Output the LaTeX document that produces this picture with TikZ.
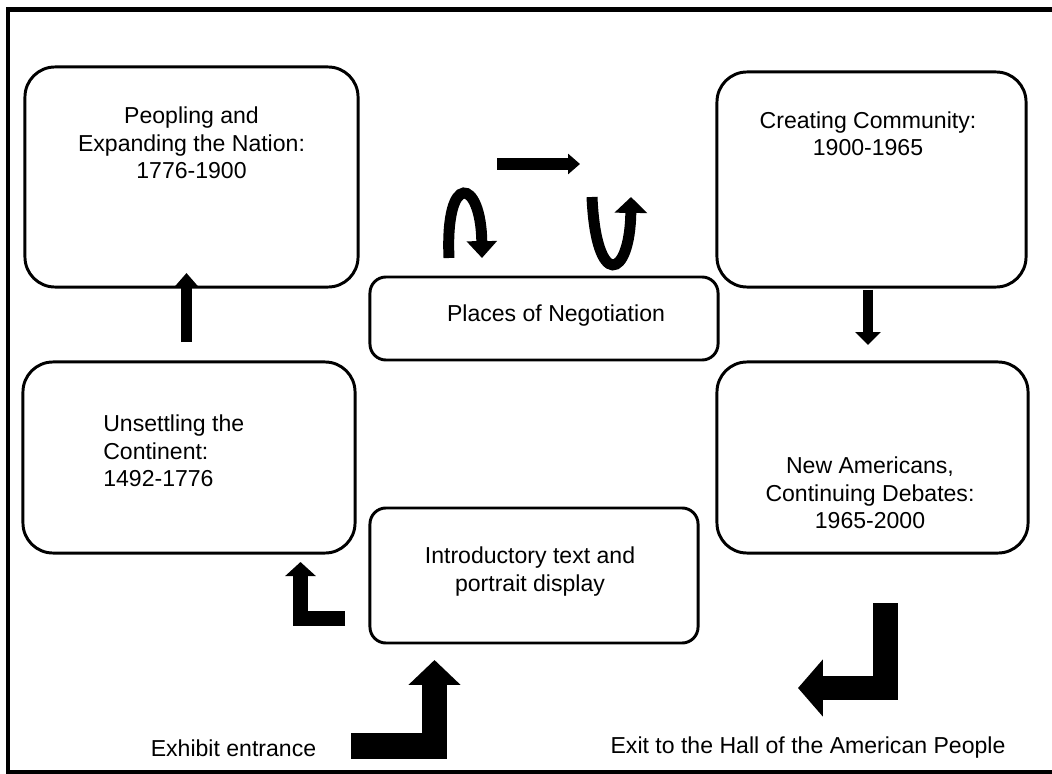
\documentclass[tikz,border=0pt]{standalone}
\usepackage{fontspec}
\setmainfont{Liberation Sans}
\usetikzlibrary{arrows.meta}

\begin{document}
\begin{tikzpicture}[x=0.025cm,y=-0.025cm,
    room/.style={draw,line width=2.1pt,rounded corners=0.75cm,inner sep=0pt},
    nook/.style={draw,line width=2.1pt,rounded corners=0.4cm,inner sep=0pt},
    txt/.style={align=center,inner sep=0pt,font=\fontsize{16.4}{19.5}\selectfont},
    walk/.style={line join=miter,line cap=butt}]
  \useasboundingbox (0,0) rectangle (1052,774);
  % outer frame, cut off at the right
  \draw[line width=3.2pt] (1070,9.5) -- (8,9.5) -- (8,772) -- (1070,772);
  % galleries
  \node[room,minimum width=8.325cm,minimum height=5.5cm] (peopling) at (191.5,177) {};
  \node[room,minimum width=7.725cm,minimum height=5.375cm] (creating) at (871.5,179.5) {};
  \node[nook,minimum width=8.7cm,minimum height=2.075cm] (places) at (544,318.5) {};
  \node[room,minimum width=8.3cm,minimum height=4.775cm] (unsettling) at (189,457.5) {};
  \node[room,minimum width=7.775cm,minimum height=4.775cm] (newam) at (872.5,457.5) {};
  \node[nook,minimum width=8.2cm,minimum height=3.375cm] (intro) at (534,575.5) {};
  \node[txt] (peoplingt) at (191.5,143) {Peopling and\\Expanding the Nation:\\1776-1900};
  \node[txt] (creatingt) at (868,133.5) {Creating Community:\\1900-1965};
  \node[txt] (placest) at (556,316) {Places of Negotiation};
  \node[txt,align=left,anchor=west] (unsettlingt) at (103,451) {Unsettling the\\Continent:\\1492-1776};
  \node[txt] (newamt) at (870,493) {New Americans,\\Continuing Debates:\\1965-2000};
  \node[txt] (introt) at (530,571.5) {Introductory text and\\portrait display};
  \node[txt] (entrance) at (233.5,748) {Exhibit entrance};
  \node[txt] (exit) at (808,748) {Exit to the Hall of the American People};
  % route markers
  \coordinate (u0) at (186.5,342); \coordinate (u1) at (186.5,273);
  \coordinate (d0) at (868,290); \coordinate (d1) at (868,345);
  \coordinate (r0) at (497,164); \coordinate (r1) at (580,164);
  \draw[line width=7.8pt,-{Triangle[width=17.7pt,length=10.6pt]}] (u0) -- (u1);
  \draw[line width=7.2pt,-{Triangle[width=17.7pt,length=9.2pt]}] (d0) -- (d1);
  \draw[line width=8.5pt,-{Triangle[width=14.2pt,length=8.5pt]}] (r0) -- (r1);
  \draw[line width=7.8pt,-{Triangle[width=21pt,length=12pt]}]
    (449,258) .. controls (445,170) and (481,178) .. (482,258);
  \draw[line width=7.8pt,-{Triangle[width=22.7pt,length=11.3pt]}]
    (592,197) .. controls (596,290) and (630,280) .. (631,197);
  % bent arrows at the doors
  \draw[walk,line width=11.3pt,-{Triangle[width=21.3pt,length=10pt]}]
    (345,618.5) -- (300.5,618.5) -- (300.5,562);
  \draw[walk,line width=18pt,-{Triangle[width=36pt,length=17.7pt]}]
    (351,746) -- (434.5,746) -- (434.5,660);
  \draw[walk,line width=17.4pt,-{Triangle[width=39.7pt,length=17.7pt]}]
    (885.5,603) -- (885.5,688) -- (798,688);
\end{tikzpicture}
\end{document}
